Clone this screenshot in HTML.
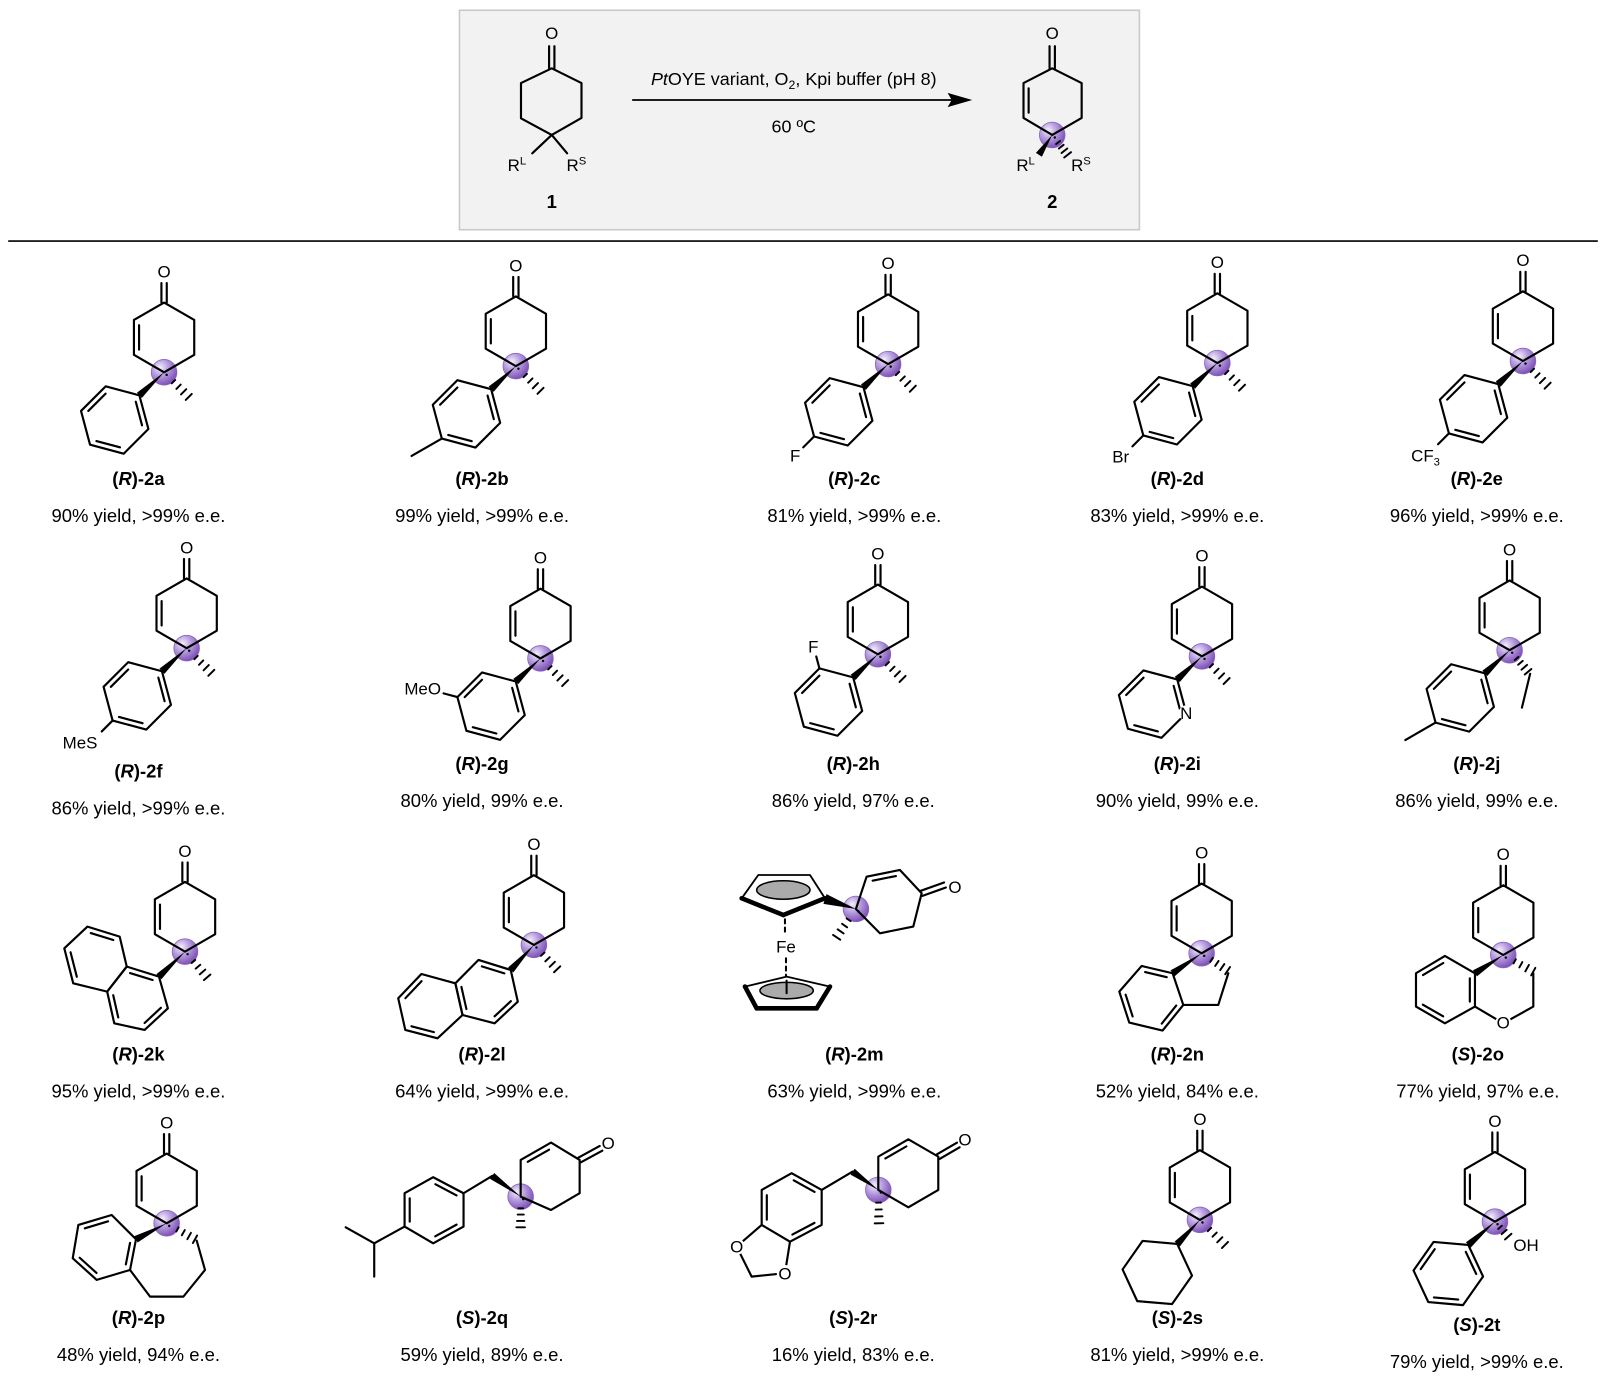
<!DOCTYPE html>
<html><head><meta charset="utf-8"><style>
html,body{margin:0;padding:0;background:#fff;}
svg{display:block;}
text{font-family:"Liberation Sans",Arial,sans-serif;fill:#000;}
.nm{font-size:18px;font-weight:bold;text-anchor:middle;}
.yl{font-size:18px;text-anchor:middle;}
.at{font-size:16.5px;text-anchor:middle;}
</style></head><body>
<svg xmlns="http://www.w3.org/2000/svg" width="1605" height="1380" viewBox="0 0 1565 1345.6">
<defs><radialGradient id="sg" cx="35%" cy="32%" r="70%"><stop offset="0" stop-color="#f6f0fb"/><stop offset="0.45" stop-color="#b89fe0"/><stop offset="1" stop-color="#7d50b5"/></radialGradient></defs>
<rect x="0" y="0" width="1565" height="1346" fill="#fff"/>
<rect x="448" y="10" width="663" height="214" fill="#f2f2f2" stroke="#c8c8c8" stroke-width="1.5"/>
<line x1="8" y1="235" x2="1558" y2="235" stroke="#000" stroke-width="1.6"/>
<g id="bg"></g>
<g id="fg" stroke="#000" stroke-linecap="round" stroke-linejoin="round"></g>
<g id="lb"></g>
<g id="tx">
<text x="774" y="83" style="font-size:17.5px" text-anchor="middle"><tspan font-style="italic">Pt</tspan>OYE variant, O<tspan font-size="12" dy="4">2</tspan><tspan dy="-4">, Kpi buffer (pH 8)</tspan></text>
<text x="774" y="129" style="font-size:17.5px" text-anchor="middle">60 ºC</text>
<text class="at" x="538" y="38">O</text>
<text class="at" x="1026" y="38">O</text>
<text class="at" x="504" y="166.5">R<tspan font-size="11" dy="-6">L</tspan></text>
<text class="at" x="562" y="166.5">R<tspan font-size="11" dy="-6">S</tspan></text>
<text class="at" x="1000" y="166.5">R<tspan font-size="11" dy="-6">L</tspan></text>
<text class="at" x="1054" y="166.5">R<tspan font-size="11" dy="-6">S</tspan></text>
<text class="nm" x="538" y="203">1</text>
<text class="nm" x="1026" y="203">2</text>
<text class="at" x="160" y="270.5">O</text>
<text class="at" x="503" y="264.5">O</text>
<text class="at" x="866" y="262.5">O</text>
<text class="at" x="1187" y="261.5">O</text>
<text class="at" x="1485" y="259.5">O</text>
<text class="at" x="182" y="539.5">O</text>
<text class="at" x="527" y="549.5">O</text>
<text class="at" x="856" y="545.5">O</text>
<text class="at" x="1172" y="547.5">O</text>
<text class="at" x="1472" y="541.5">O</text>
<text class="at" x="180.4" y="835.4">O</text>
<text class="at" x="520.6" y="828.9">O</text>
<text class="at" x="931.2" y="870.7">O</text>
<text class="at" x="1171.7" y="837">O</text>
<text class="at" x="1465.8" y="838.7">O</text>
<text class="at" x="162.5" y="1100.3">O</text>
<text class="at" x="593" y="1120.3">O</text>
<text class="at" x="940.9" y="1117">O</text>
<text class="at" x="1170" y="1097">O</text>
<text class="at" x="1457.7" y="1098.7">O</text>
<text class="at" x="775.4" y="450">F</text>
<text class="at" x="1101" y="451" style="text-anchor:end">Br</text>
<text class="at" x="1390" y="450">CF<tspan font-size="11" dy="4">3</tspan></text>
<text class="at" x="95" y="730" style="text-anchor:end">MeS</text>
<text class="at" x="430" y="677" style="text-anchor:end">MeO</text>
<text class="at" x="793" y="636">F</text>
<text class="at" x="1156.7" y="701.3">N</text>
<text class="at" x="766.4" y="929">Fe</text>
<text class="at" x="1465.8" y="1003">O</text>
<text class="at" x="718.3" y="1221.5">O</text>
<text class="at" x="765.4" y="1247.5">O</text>
<text class="at" x="1488" y="1220">OH</text>
<text class="nm" x="135" y="473">(<tspan font-style="italic">R</tspan>)-2a</text>
<text class="yl" x="135" y="509">90% yield, &gt;99% e.e.</text>
<text class="nm" x="470" y="473">(<tspan font-style="italic">R</tspan>)-2b</text>
<text class="yl" x="470" y="509">99% yield, &gt;99% e.e.</text>
<text class="nm" x="833" y="473">(<tspan font-style="italic">R</tspan>)-2c</text>
<text class="yl" x="833" y="509">81% yield, &gt;99% e.e.</text>
<text class="nm" x="1148" y="473">(<tspan font-style="italic">R</tspan>)-2d</text>
<text class="yl" x="1148" y="509">83% yield, &gt;99% e.e.</text>
<text class="nm" x="1440" y="473">(<tspan font-style="italic">R</tspan>)-2e</text>
<text class="yl" x="1440" y="509">96% yield, &gt;99% e.e.</text>
<text class="nm" x="135" y="758">(<tspan font-style="italic">R</tspan>)-2f</text>
<text class="yl" x="135" y="794">86% yield, &gt;99% e.e.</text>
<text class="nm" x="470" y="751">(<tspan font-style="italic">R</tspan>)-2g</text>
<text class="yl" x="470" y="787">80% yield, 99% e.e.</text>
<text class="nm" x="832" y="751">(<tspan font-style="italic">R</tspan>)-2h</text>
<text class="yl" x="832" y="787">86% yield, 97% e.e.</text>
<text class="nm" x="1148" y="751">(<tspan font-style="italic">R</tspan>)-2i</text>
<text class="yl" x="1148" y="787">90% yield, 99% e.e.</text>
<text class="nm" x="1440" y="751">(<tspan font-style="italic">R</tspan>)-2j</text>
<text class="yl" x="1440" y="787">86% yield, 99% e.e.</text>
<text class="nm" x="135" y="1034">(<tspan font-style="italic">R</tspan>)-2k</text>
<text class="yl" x="135" y="1070">95% yield, &gt;99% e.e.</text>
<text class="nm" x="470" y="1034">(<tspan font-style="italic">R</tspan>)-2l</text>
<text class="yl" x="470" y="1070">64% yield, &gt;99% e.e.</text>
<text class="nm" x="833" y="1034">(<tspan font-style="italic">R</tspan>)-2m</text>
<text class="yl" x="833" y="1070">63% yield, &gt;99% e.e.</text>
<text class="nm" x="1148" y="1034">(<tspan font-style="italic">R</tspan>)-2n</text>
<text class="yl" x="1148" y="1070">52% yield, 84% e.e.</text>
<text class="nm" x="1441" y="1034">(<tspan font-style="italic">S</tspan>)-2o</text>
<text class="yl" x="1441" y="1070">77% yield, 97% e.e.</text>
<text class="nm" x="135" y="1291">(<tspan font-style="italic">R</tspan>)-2p</text>
<text class="yl" x="135" y="1327">48% yield, 94% e.e.</text>
<text class="nm" x="470" y="1291">(<tspan font-style="italic">S</tspan>)-2q</text>
<text class="yl" x="470" y="1327">59% yield, 89% e.e.</text>
<text class="nm" x="832" y="1291">(<tspan font-style="italic">S</tspan>)-2r</text>
<text class="yl" x="832" y="1327">16% yield, 83% e.e.</text>
<text class="nm" x="1148" y="1291">(<tspan font-style="italic">S</tspan>)-2s</text>
<text class="yl" x="1148" y="1327">81% yield, &gt;99% e.e.</text>
<text class="nm" x="1440" y="1298">(<tspan font-style="italic">S</tspan>)-2t</text>
<text class="yl" x="1440" y="1334">79% yield, &gt;99% e.e.</text>
</g>
</svg>
<script>
(function(){
const K=1.0256,W=2.1;
let bg='',fg='',lb='';
const f=n=>n.toFixed(1);
const rad=a=>a*Math.PI/180;
const dir=(a,r)=>[r*Math.cos(rad(a)),r*Math.sin(rad(a))];
const add=(p,q)=>[p[0]+q[0],p[1]+q[1]];
function ln(a,b,w,extra){fg+=`<line x1="${f(a[0])}" y1="${f(a[1])}" x2="${f(b[0])}" y2="${f(b[1])}" stroke-width="${w||W}" ${extra||''}/>`;}
function pl(pts,close,w){fg+=`<poly${close?'gon':'line'} points="${pts.map(p=>f(p[0])+','+f(p[1])).join(' ')}" fill="none" stroke-width="${w||W}"/>`;}
function cen(pts){let x=0,y=0;pts.forEach(p=>{x+=p[0];y+=p[1]});return [x/pts.length,y/pts.length];}
function inner(a,b,c){let dx=b[0]-a[0],dy=b[1]-a[1],l=Math.hypot(dx,dy),nx=-dy/l,ny=dx/l;let mx=(a[0]+b[0])/2,my=(a[1]+b[1])/2;if(nx*(c[0]-mx)+ny*(c[1]-my)<0){nx=-nx;ny=-ny}const o=5,s=0.15;ln([a[0]+dx*s+nx*o,a[1]+dy*s+ny*o],[b[0]-dx*s+nx*o,b[1]-dy*s+ny*o]);}
function dblC(a,b){let dx=b[0]-a[0],dy=b[1]-a[1],l=Math.hypot(dx,dy),nx=-dy/l*2.6,ny=dx/l*2.6;ln([a[0]+nx,a[1]+ny],[b[0]+nx,b[1]+ny]);ln([a[0]-nx,a[1]-ny],[b[0]-nx,b[1]-ny]);}
function ring(pts,dbl){pl(pts,true);const c=cen(pts);(dbl||[]).forEach(i=>inner(pts[i],pts[(i+1)%pts.length],c));}
function wedge(a,b,w){w=w||7;let dx=b[0]-a[0],dy=b[1]-a[1],l=Math.hypot(dx,dy),nx=-dy/l*w/2,ny=dx/l*w/2;fg+=`<polygon points="${f(a[0])},${f(a[1])} ${f(b[0]+nx)},${f(b[1]+ny)} ${f(b[0]-nx)},${f(b[1]-ny)}" fill="#000" stroke="none"/>`;}
function hash(a,b,n){n=n||4;let dx=b[0]-a[0],dy=b[1]-a[1],l=Math.hypot(dx,dy);for(let i=0;i<n;i++){let t=0.38+0.62*i/(n-1),h=1.2+3*t;let x=a[0]+dx*t,y=a[1]+dy*t,nx=-dy/l*h,ny=dx/l*h;ln([x+nx,y+ny],[x-nx,y-ny],1.9);}}
function sphere(p){bg+=`<circle cx="${f(p[0])}" cy="${f(p[1])}" r="12.5" fill="url(#sg)" stroke="#8a66bd" stroke-width="0.8"/>`;fg+=`<circle cx="${f(p[0]+2.5)}" cy="${f(p[1]+2.5)}" r="1.2" fill="#000" stroke="none"/>`;}
function blank(p,r){lb+=`<circle cx="${f(p[0])}" cy="${f(p[1])}" r="${r||7.5}" fill="#fff"/>`;}
function core(Q){const x=Q[0],y=Q[1];const t=[x,y-68],ul=[x-29.4,y-51],ll=[x-29.4,y-17],lr=[x+29.4,y-17],ur=[x+29.4,y-51];ring([t,ul,ll,Q,lr,ur],[1]);dblC(t,[x,y-87]);sphere(Q);}
function aryl(ip,ax,dbl){const c=add(ip,dir(ax,34));const pts=[];for(let k=0;k<6;k++)pts.push(add(c,dir(ax+180+60*k,34)));ring(pts,dbl===undefined?[0,2,4]:dbl);return {pts,c};}
function gen(Q,o){o=o||{};core(Q);const ip=add(Q,dir(137,33));wedge(Q,ip);if(!o.nohash)hash(Q,add(Q,dir(45,34)));return aryl(ip,o.ax||135,o.dbl);}
const Zc=(ox,oy,fx,fy)=>(p)=>[(ox+p[0]/fx)/K,(oy+p[1]/fy)/K];

ring([[538,66.6],[508,81],[508,115.4],[538,131.6],[567,115],[567,81]],[]);
dblC([538,66.6],[538,45]);
ln([538,131.6],[519,149.5]);ln([538,131.6],[553,149.5]);
sphere([1026,131.6]);
ring([[1026,66.6],[998,81],[998,115],[1026,131.6],[1054.7,115],[1054.7,81]],[1]);
dblC([1026,66.6],[1026,45]);
wedge([1026,131.6],[1013,151]);hash([1026,131.6],[1041,151]);
ln([617,97.5],[932,97.5],1.6);
fg+=`<polygon points="948,97.5 924,90.5 928,97.5 924,104.5" fill="#000" stroke="none"/>`;

gen([160,363]);
let A=gen([503,357]);ln(A.pts[3],add(A.pts[3],dir(150,34)));
A=gen([866,355]);ln(A.pts[3],add(A.pts[3],dir(135,15)));
A=gen([1187,354]);ln(A.pts[3],add(A.pts[3],dir(135,15)));
A=gen([1485,352]);ln(A.pts[3],add(A.pts[3],dir(135,15)));
A=gen([182,632]);ln(A.pts[3],add(A.pts[3],dir(135,15)));
A=gen([527,642]);ln(A.pts[4],add(A.pts[4],dir(195,14)));
A=gen([856,638]);ln(A.pts[5],add(A.pts[5],dir(255,12)));
A=gen([1172,640]);blank(A.pts[1],7.5);
A=gen([1472,634],{nohash:1});ln(A.pts[3],add(A.pts[3],dir(150,34)));
hash([1472,634],[1490,655]);ln([1492,657],[1484,690]);

let z=Zc(50,830,2.8,3);
let Q=z([378,365]);core(Q);
wedge(Q,z([305,440]));hash(Q,z([440,442]));
ring([[305,440],[215,410],[160,485],[180,580],[265,600],[330,535]].map(z),[0,2,4]);
ring([[215,410],[195,320],[105,290],[40,355],[65,460],[160,485]].map(z),[1,3]);
Q=z([1355,345]);core(Q);
wedge(Q,z([1290,420]));hash(Q,z([1420,418]));
ring([[1290,420],[1200,390],[1135,460],[1155,555],[1245,580],[1310,515]].map(z),[0,2,4]);
ring([[1135,460],[1040,432],[975,505],[995,600],[1085,625],[1155,555]].map(z),[1,3]);

z=Zc(730,830,3,3);
Q=z([378,237]);sphere(Q);
fg+=`<polygon points="${[[85,135],[240,135],[285,205],[160,255],[35,205]].map(z).map(p=>f(p[0])+','+f(p[1])).join(' ')}" fill="#fff" stroke-width="1.8"/>`;
let e=z([160,180]);fg+=`<ellipse cx="${f(e[0])}" cy="${f(e[1])}" rx="26" ry="9" fill="#aaa" stroke-width="1.5"/>`;
ln(z([35,205]),z([160,255]),4.5);ln(z([160,255]),z([285,205]),4.5);
wedge(Q,z([285,207]),10);
hash(Q,z([320,322]));
ln(z([165,268]),z([165,312]),2,'stroke-dasharray="4,4"');
ln(z([168,385]),z([168,440]),2,'stroke-dasharray="4,4"');
fg+=`<polygon points="${[[45,470],[170,440],[300,470],[260,535],[80,535]].map(z).map(p=>f(p[0])+','+f(p[1])).join(' ')}" fill="#fff" stroke-width="1.8"/>`;
e=z([170,482]);fg+=`<ellipse cx="${f(e[0])}" cy="${f(e[1])}" rx="26" ry="8" fill="#aaa" stroke-width="1.5"/>`;
ln(z([45,470]),z([80,535]),4.5);ln(z([80,535]),z([260,535]),4.5);ln(z([260,535]),z([300,470]),4.5);
ln(z([170,452]),z([170,490]),2);
ring([[378,237],[410,140],[510,120],[575,190],[550,290],[450,310]].map(z),[1]);
dblC(z([575,190]),z([645,165]));

z=Zc(1100,840,3,3);
Q=z([305,340]);core(Q);
wedge(Q,z([218,400]));hash(Q,z([383,392]));
pl([[385,400],[355,495],[250,495]].map(z));
ring([[218,400],[125,378],[58,455],[88,548],[188,572],[250,495]].map(z),[0,2,4]);
Q=z([1210,345]);core(Q);
wedge(Q,z([1125,400]));hash(Q,z([1300,395]));
pl([[1300,400],[1300,500],[1210,550],[1125,500]].map(z));blank(z([1210,550]),8);
ring([[1125,400],[1035,348],[948,400],[948,500],[1035,550],[1125,500]].map(z),[1,3,5]);

z=Zc(60,1180,3,3);
Q=z([320,130]);core(Q);
wedge(Q,z([228,178]));hash(Q,z([405,178]));
pl([[410,182],[435,270],[370,350],[270,350],[210,270]].map(z));
ring([[228,178],[155,105],[55,135],[38,235],[110,300],[210,270]].map(z),[1,3,5]);

z=Zc(60,1100,2.8,3);
Q=z([1290,290]);sphere(Q);
ring([[1290,290],[1290,180],[1375,128],[1455,180],[1455,280],[1375,330]].map(z),[1]);
dblC(z([1455,180]),z([1515,145]));
wedge(Q,z([1210,228]));ln(z([1210,228]),z([1130,280]));hash(Q,z([1290,382]));
ring([[1130,280],[1045,232],[965,280],[965,380],[1045,430],[1130,380]].map(z),[0,2,4]);
pl([[800,382],[880,430],[965,380]].map(z));ln(z([880,430]),z([880,530]));

z=Zc(720,1110,3,3);
Q=z([475,240]);sphere(Q);
ring([[475,240],[475,140],[565,88],[655,140],[655,240],[565,292]].map(z),[1]);
dblC(z([655,140]),z([715,105]));
wedge(Q,z([398,185]));ln(z([398,185]),z([305,240]));hash(Q,z([477,340]));
ring([[305,240],[215,190],[125,240],[125,345],[210,395],[305,345]].map(z),[0,2,4]);
pl([[125,345],[50,410],[95,500],[195,490],[210,395]].map(z));
blank(z([50,410]),8);blank(z([195,490]),8);

z=Zc(1100,1110,3,3);
Q=z([300,330]);core(Q);
let ip=z([232,402]);wedge(Q,ip);hash(Q,z([375,405]));
aryl(ip,125,[]);
Q=z([1185,335]);core(Q);
ip=z([1105,405]);wedge(Q,ip);hash(Q,z([1225,380]),3);
aryl(ip,125,[0,2,4]);

document.getElementById('bg').innerHTML=bg;
document.getElementById('fg').innerHTML=fg;
document.getElementById('lb').innerHTML=lb;
})();
</script>
</body></html>
